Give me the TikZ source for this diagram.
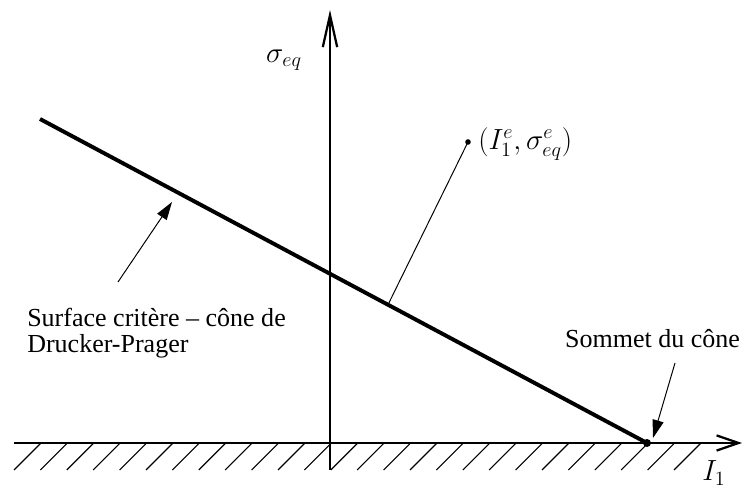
\documentclass[tikz,border=0pt]{standalone}
\usepackage{fontspec}
\setmainfont{Liberation Serif}
\usepackage{amsmath}
\usetikzlibrary{arrows.meta,calc}

\begin{document}
\begin{tikzpicture}[x=1cm,y=1cm,
  axisline/.style={line width=1.3pt},
  hatchline/.style={line width=0.8pt},
  leader/.style={line width=0.7pt,-{Triangle[length=0.45cm,width=0.28cm]}},
  lbl/.style={font=\fontsize{18.5}{18.5}\selectfont,inner sep=0pt},
  mlbl/.style={font=\fontsize{22}{22}\selectfont,inner sep=0pt}]
\useasboundingbox (0,0) rectangle (18.55,12.25);
% axes
\coordinate (xl) at (0.35,1.175);
\coordinate (xr) at (18.55,1.175);
\coordinate (yb) at (8.25,0.5);
\coordinate (yt) at (8.25,12.0);
\draw[axisline,-{Straight Barb[length=0.55cm,width=0.38cm,line width=1.6pt]}] (xl) -- (xr);
\draw[axisline,-{Straight Barb[length=0.8cm,width=0.36cm,line width=1.6pt]}] (yb) -- (yt);
% hatching below the I1 axis
\foreach \i in {0,...,25}
  \draw[hatchline] ({0.35+0.66*\i},0.5) -- ++(0.675,0.675);
% criterion line
\coordinate (s0) at (1.0,9.275);
\coordinate (apex) at (16.175,1.175);
\draw[line width=2.8pt] (s0) -- (apex);
\fill (apex) circle (0.1);
% trial point
\coordinate (trial) at (11.7,8.7);
\draw[line width=0.7pt] ($(s0)!0.5733!(apex)$) -- (trial);
\fill (trial) circle (0.07);
\node[mlbl,anchor=west] (trlbl) at (11.95,8.65) {$(I_1^e,\sigma_{eq}^e)$};
% axis labels
\node[mlbl] (sig) at (7.1,10.75) {$\sigma_{eq}$};
\node[mlbl] (ione) at (17.85,0.42) {$I_1$};
% notes
\node[lbl,anchor=base west,align=left] (surf) at (0.675,3.425) {Surface critère – cône de\\Drucker-Prager};
\coordinate (surftail) at (2.95,5.2);
\coordinate (surftip) at (4.3,7.2);
\draw[leader] (surftail) -- (surftip);
\node[lbl,anchor=base west] (som) at (14.12,3.55) {Sommet du cône};
\coordinate (somtail) at (16.875,3.175);
\coordinate (somtip) at (16.325,1.3);
\draw[leader] (somtail) -- (somtip);
\end{tikzpicture}
\end{document}
